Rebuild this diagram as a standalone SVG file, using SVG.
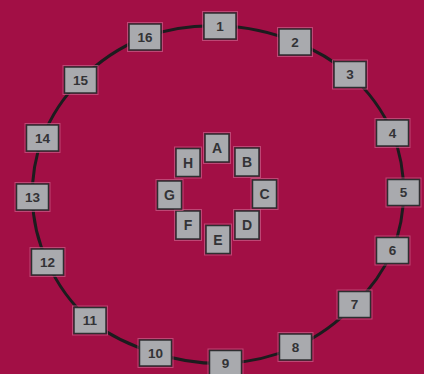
<svg xmlns="http://www.w3.org/2000/svg" width="424" height="374" viewBox="0 0 424 374">
<style>
.bg{fill:#a20f45}
.halo{fill:none;stroke:#c9608a;stroke-width:1;opacity:.7}
.box{fill:#a9aaae;stroke:#2e2e30;stroke-width:1.5}
.lbl{font-family:"Liberation Sans",Arial,sans-serif;font-weight:bold;font-size:13.5px;fill:#333336;text-anchor:middle;dominant-baseline:central}
.ilbl{font-size:14px}
.edge{fill:none;stroke:#1c1c1e;stroke-width:3}
</style>
<defs>
<g id="ob"><rect class="halo" x="-17.5" y="-14.5" width="35" height="29"/><rect class="box" x="-16" y="-13" width="32" height="26"/></g>
<g id="ib"><rect class="halo" x="-13.5" y="-15.5" width="27" height="31"/><rect class="box" x="-12" y="-14" width="24" height="28"/></g>
</defs>
<rect class="bg" x="0" y="0" width="424" height="374"/>
<g id="connectors">
<path class="edge" d="M220 26 A186 168 0 0 1 295 42"/>
<path class="edge" d="M295 42 A186 168 0 0 1 350 74.5"/>
<path class="edge" d="M350 74.5 A186 168 0 0 1 392.5 133"/>
<path class="edge" d="M392.5 133 A186 168 0 0 1 403.5 192.5"/>
<path class="edge" d="M403.5 192.5 A186 168 0 0 1 392.5 250.5"/>
<path class="edge" d="M392.5 250.5 A186 168 0 0 1 354.5 304.5"/>
<path class="edge" d="M354.5 304.5 A186 168 0 0 1 295.5 347"/>
<path class="edge" d="M295.5 347 A186 168 0 0 1 225.5 363.5"/>
<path class="edge" d="M225.5 363.5 A186 168 0 0 1 155.5 353"/>
<path class="edge" d="M155.5 353 A186 168 0 0 1 90 320.5"/>
<path class="edge" d="M90 320.5 A186 168 0 0 1 47.5 262"/>
<path class="edge" d="M47.5 262 A186 168 0 0 1 32.5 197"/>
<path class="edge" d="M32.5 197 A186 168 0 0 1 42.5 138"/>
<path class="edge" d="M42.5 138 A186 168 0 0 1 80.5 80"/>
<path class="edge" d="M80.5 80 A186 168 0 0 1 145 37"/>
<path class="edge" d="M145 37 A186 168 0 0 1 220 26"/>
</g>
<g id="n1" transform="translate(220 26)"><use href="#ob"/><text class="lbl">1</text></g>
<g id="n2" transform="translate(295 42)"><use href="#ob"/><text class="lbl">2</text></g>
<g id="n3" transform="translate(350 74.5)"><use href="#ob"/><text class="lbl">3</text></g>
<g id="n4" transform="translate(392.5 133)"><use href="#ob"/><text class="lbl">4</text></g>
<g id="n5" transform="translate(403.5 192.5)"><use href="#ob"/><text class="lbl">5</text></g>
<g id="n6" transform="translate(392.5 250.5)"><use href="#ob"/><text class="lbl">6</text></g>
<g id="n7" transform="translate(354.5 304.5)"><use href="#ob"/><text class="lbl">7</text></g>
<g id="n8" transform="translate(295.5 347)"><use href="#ob"/><text class="lbl">8</text></g>
<g id="n9" transform="translate(225.5 363.5)"><use href="#ob"/><text class="lbl">9</text></g>
<g id="n10" transform="translate(155.5 353)"><use href="#ob"/><text class="lbl">10</text></g>
<g id="n11" transform="translate(90 320.5)"><use href="#ob"/><text class="lbl">11</text></g>
<g id="n12" transform="translate(47.5 262)"><use href="#ob"/><text class="lbl">12</text></g>
<g id="n13" transform="translate(32.5 197)"><use href="#ob"/><text class="lbl">13</text></g>
<g id="n14" transform="translate(42.5 138)"><use href="#ob"/><text class="lbl">14</text></g>
<g id="n15" transform="translate(80.5 80)"><use href="#ob"/><text class="lbl">15</text></g>
<g id="n16" transform="translate(145 37)"><use href="#ob"/><text class="lbl">16</text></g>
<g id="nA" transform="translate(217 148)"><use href="#ib"/><text class="lbl ilbl">A</text></g>
<g id="nB" transform="translate(247 162)"><use href="#ib"/><text class="lbl ilbl">B</text></g>
<g id="nC" transform="translate(264.5 194)"><use href="#ib"/><text class="lbl ilbl">C</text></g>
<g id="nD" transform="translate(247 225)"><use href="#ib"/><text class="lbl ilbl">D</text></g>
<g id="nE" transform="translate(218 239.5)"><use href="#ib"/><text class="lbl ilbl">E</text></g>
<g id="nF" transform="translate(188 225)"><use href="#ib"/><text class="lbl ilbl">F</text></g>
<g id="nG" transform="translate(169.5 195)"><use href="#ib"/><text class="lbl ilbl">G</text></g>
<g id="nH" transform="translate(188 162.5)"><use href="#ib"/><text class="lbl ilbl">H</text></g>
</svg>
